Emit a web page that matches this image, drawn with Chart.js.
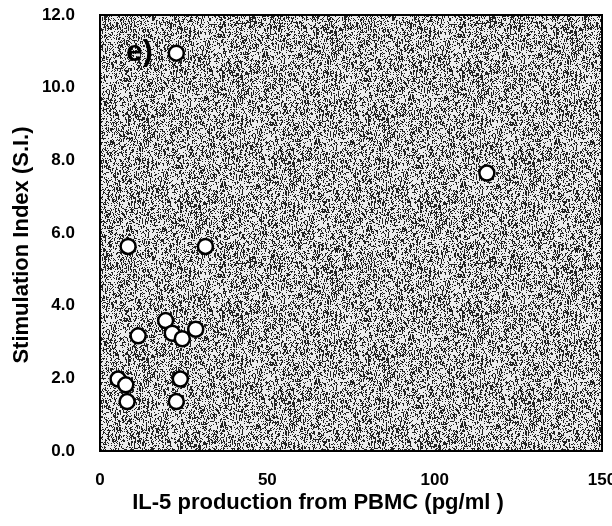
<!DOCTYPE html>
<html>
<head>
<meta charset="utf-8">
<script src="https://cdn.jsdelivr.net/npm/chart.js@4/dist/chart.umd.min.js"></script>
<style>
  html, body { margin: 0; padding: 0; background: #fff; }
  #wrap { width: 612px; height: 526px; position: relative; }
</style>
</head>
<body>
<div id="wrap"><canvas id="il5Chart" width="612" height="526"></canvas></div>
<script>
// values (IL-5 pg/ml vs stimulation index)
var il5 = [22.8, 115.6, 8.4, 31.5, 11.4, 19.6, 21.6, 24.6, 28.6, 5.4, 7.7, 8.1, 24.0, 22.8];
var si = [10.95, 7.65, 5.63, 5.63, 3.17, 3.59, 3.24, 3.09, 3.35, 1.98, 1.82, 1.36, 1.98, 1.36];
var xTicks = [0, 50, 100, 150];
var yTicks = [0, 2, 4, 6, 8, 10, 12];
var panelLabel = "e)";
var xTitle = "IL-5 production from PBMC (pg/ml )";
var yTitle = "Stimulation Index (S.I.)";

var points = [];
for (var i = 0; i < il5.length; i++) {
  points.push({ x: il5[i], y: si[i] });
}

var FONT = "'Liberation Sans', Arial, sans-serif";

// speckled grey background like the photocopied original
function makeSpeckle() {
  var c = document.createElement("canvas");
  c.width = 240;
  c.height = 240;
  var g = c.getContext("2d");
  var seed = 12345;
  function rnd() {
    seed = (seed * 1103515245 + 12345) % 2147483648;
    return seed / 2147483648;
  }
  g.fillStyle = "#ececec";
  g.fillRect(0, 0, 240, 240);
  g.fillStyle = "#222";
  for (var yy = 0; yy < 240; yy++) {
    for (var xx = 0; xx < 240; xx++) {
      var r = rnd();
      if (r < 0.22) g.fillRect(xx, yy, 1, 1);
      else if (r < 0.27) g.fillRect(xx, yy, 1, 3);
    }
  }
  return c;
}
var speckle = makeSpeckle();

var framePlugin = {
  id: "frame",
  beforeDatasetsDraw: function (chart) {
    var a = chart.chartArea;
    var ctx = chart.ctx;
    ctx.save();
    ctx.fillStyle = ctx.createPattern(speckle, "repeat");
    ctx.fillRect(a.left, a.top, a.right - a.left, a.bottom - a.top);
    ctx.lineWidth = 2;
    ctx.strokeStyle = "#000";
    ctx.strokeRect(a.left, a.top, a.right - a.left, a.bottom - a.top);
    // panel letter
    ctx.font = "bold 30px " + FONT;
    ctx.fillStyle = "#000";
    ctx.textBaseline = "middle";
    ctx.fillText(panelLabel, a.left + 26, a.top + 38);
    ctx.restore();
  },
  afterDraw: function (chart) {
    // axis titles sit off-centre in the original, so they are placed by hand
    var ctx = chart.ctx;
    ctx.save();
    ctx.fillStyle = "#000";
    ctx.font = "bold 22px " + FONT;
    ctx.textAlign = "center";
    ctx.textBaseline = "middle";
    ctx.fillText(xTitle, 318, 503);
    ctx.translate(22, 245);
    ctx.rotate(-Math.PI / 2);
    ctx.fillText(yTitle, 0, 0);
    ctx.restore();
  }
};

var ctx = document.getElementById("il5Chart");
var il5Chart = new Chart(ctx, {
  type: "scatter",
  data: {
    datasets: [
      {
        label: "S.I.",
        data: points,
        pointRadius: 7.5,
        pointBorderWidth: 2.5,
        pointBackgroundColor: "#fff",
        pointBorderColor: "#000",
      },
    ],
  },
  options: {
    responsive: false,
    animation: false,
    layout: { padding: { top: 15, right: 8, left: 0, bottom: 0 } },
    plugins: {
      legend: { display: false },
      tooltip: { enabled: false },
    },
    scales: {
      x: {
        type: "linear",
        min: 0,
        max: 150,
        grid: { display: false, drawTicks: false },
        border: { display: false },
        afterBuildTicks: function (axis) {
          axis.ticks = xTicks.map(function (v) { return { value: v }; });
        },
        afterFit: function (axis) {
          axis.height = 75;
          axis.paddingLeft = 0;
          axis.paddingRight = 0;
        },
        ticks: {
          padding: 19,
          color: "#000",
          font: { family: FONT, size: 17, weight: "bold" },
        },
      },
      y: {
        type: "linear",
        min: 0,
        max: 12,
        grid: { display: false, drawTicks: false },
        border: { display: false },
        afterBuildTicks: function (axis) {
          axis.ticks = yTicks.map(function (v) { return { value: v }; });
        },
        afterFit: function (axis) {
          axis.width = 100;
          axis.paddingTop = 0;
          axis.paddingBottom = 0;
        },
        ticks: {
          padding: 25,
          color: "#000",
          font: { family: FONT, size: 17, weight: "bold" },
          callback: function (v) { return Number(v).toFixed(1); },
        },
      },
    },
  },
  plugins: [framePlugin],
});
</script>
</body>
</html>
